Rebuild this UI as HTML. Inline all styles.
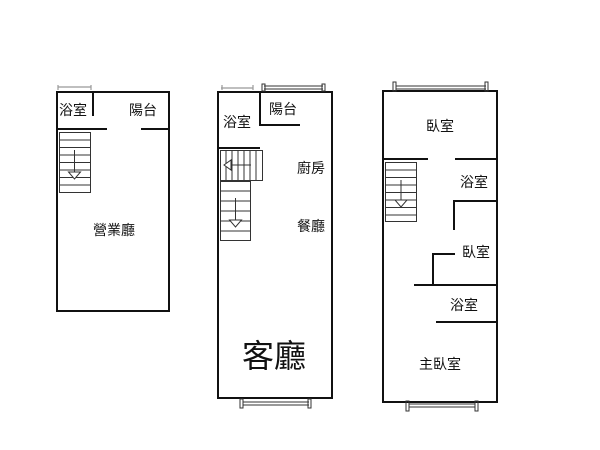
<!DOCTYPE html>
<html><head><meta charset="utf-8"><style>
html,body{margin:0;padding:0;background:#fff;width:600px;height:450px;overflow:hidden}
svg{display:block}
text{font-family:"Liberation Sans","Noto Sans CJK TC",sans-serif;fill:#111}
</style></head><body>
<svg width="600" height="450" viewBox="0 0 600 450" xmlns="http://www.w3.org/2000/svg">
<g stroke="#111" fill="none" stroke-width="2">
<!-- Building 1 -->
<rect x="57" y="92" width="112" height="219"/>
<line x1="93" y1="92" x2="93" y2="116"/>
<line x1="57" y1="129" x2="107" y2="129"/>
<line x1="141" y1="129" x2="169" y2="129"/>
</g>
<g stroke="#999" stroke-width="1.2" fill="none">
<line x1="58" y1="87" x2="91" y2="87"/>
<line x1="58" y1="85" x2="58" y2="90"/><line x1="91" y1="85" x2="91" y2="90"/>
</g>
<g stroke="#333" stroke-width="1" fill="none">
<rect x="59.5" y="132.5" width="31" height="60"/>
<line x1="59.5" y1="140" x2="90.5" y2="140"/>
<line x1="59.5" y1="147.5" x2="90.5" y2="147.5"/>
<line x1="59.5" y1="155" x2="90.5" y2="155"/>
<line x1="59.5" y1="162.5" x2="90.5" y2="162.5"/>
<line x1="59.5" y1="170" x2="90.5" y2="170"/>
<line x1="59.5" y1="177.5" x2="90.5" y2="177.5"/>
<line x1="59.5" y1="185" x2="90.5" y2="185"/>
<line x1="74.5" y1="150" x2="74.5" y2="172"/>
<path d="M68.5 172 L80.5 172 L74.5 179 Z" fill="#fff"/>
</g>

<!-- Building 2 -->
<g stroke="#111" fill="none" stroke-width="2">
<rect x="218" y="92" width="114" height="306"/>
<polyline points="260,92 260,125 300,125"/>
<line x1="218" y1="148" x2="260" y2="148"/>
</g>
<g stroke="#999" stroke-width="1.2" fill="none">
<line x1="221" y1="88" x2="253" y2="88"/>
<line x1="222" y1="85" x2="222" y2="90"/><line x1="253" y1="85" x2="253" y2="90"/>
</g>
<g stroke="#333" stroke-width="1" fill="none">
<line x1="264" y1="86" x2="323" y2="86"/><line x1="264" y1="89" x2="323" y2="89"/>
<rect x="262" y="84" width="3" height="7"/><rect x="322" y="84" width="3" height="7"/>
<line x1="243" y1="402" x2="309" y2="402"/><line x1="243" y1="405" x2="309" y2="405"/>
<rect x="240" y="399" width="3" height="9"/><rect x="308" y="399" width="3" height="9"/>
<rect x="220.5" y="150.5" width="42" height="30"/>
<line x1="226" y1="150.5" x2="226" y2="180.5"/>
<line x1="232" y1="150.5" x2="232" y2="180.5"/>
<line x1="238" y1="150.5" x2="238" y2="180.5"/>
<line x1="244" y1="150.5" x2="244" y2="180.5"/>
<line x1="250" y1="150.5" x2="250" y2="180.5"/>
<line x1="256" y1="150.5" x2="256" y2="180.5"/>
<line x1="231" y1="165" x2="251" y2="165"/>
<path d="M231 160 L231 170 L224 165 Z" fill="#fff"/>
<rect x="220.5" y="181.5" width="30" height="59"/>
<line x1="220.5" y1="191" x2="250.5" y2="191"/>
<line x1="220.5" y1="201" x2="250.5" y2="201"/>
<line x1="220.5" y1="211" x2="250.5" y2="211"/>
<line x1="220.5" y1="221" x2="250.5" y2="221"/>
<line x1="220.5" y1="231" x2="250.5" y2="231"/>
<line x1="235.5" y1="198" x2="235.5" y2="220"/>
<path d="M229.5 220 L241.5 220 L235.5 227 Z" fill="#fff"/>
</g>

<!-- Building 3 -->
<g stroke="#111" fill="none" stroke-width="2">
<rect x="383" y="91" width="114" height="311"/>
<line x1="383" y1="159" x2="428" y2="159"/>
<line x1="455" y1="159" x2="497" y2="159"/>
<polyline points="454,230 454,201 497,201"/>
<polyline points="455,254 433,254 433,285"/>
<line x1="414" y1="285" x2="497" y2="285"/>
<line x1="436" y1="322" x2="497" y2="322"/>
</g>
<g stroke="#333" stroke-width="1" fill="none">
<line x1="396" y1="86" x2="486" y2="86"/><line x1="396" y1="89" x2="486" y2="89"/>
<rect x="393" y="82" width="3" height="9"/><rect x="485" y="82" width="3" height="9"/>
<line x1="409" y1="404" x2="475" y2="404"/><line x1="409" y1="407" x2="475" y2="407"/>
<rect x="406" y="401" width="3" height="10"/><rect x="475" y="401" width="3" height="10"/>
<rect x="385.5" y="162.5" width="31" height="59"/>
<line x1="385.5" y1="170" x2="416.5" y2="170"/>
<line x1="385.5" y1="177.5" x2="416.5" y2="177.5"/>
<line x1="385.5" y1="185" x2="416.5" y2="185"/>
<line x1="385.5" y1="192.5" x2="416.5" y2="192.5"/>
<line x1="385.5" y1="200" x2="416.5" y2="200"/>
<line x1="385.5" y1="207.5" x2="416.5" y2="207.5"/>
<line x1="385.5" y1="215" x2="416.5" y2="215"/>
<line x1="401" y1="180" x2="401" y2="200"/>
<path d="M395 200 L407 200 L401 207 Z" fill="#fff"/>
</g>

<g font-size="14">
<text x="73" y="115" text-anchor="middle">浴室</text>
<text x="143" y="115" text-anchor="middle">陽台</text>
<text x="114" y="235" text-anchor="middle">營業廳</text>
<text x="237" y="127" text-anchor="middle">浴室</text>
<text x="283" y="114" text-anchor="middle">陽台</text>
<text x="311" y="173" text-anchor="middle">廚房</text>
<text x="311" y="231" text-anchor="middle">餐廳</text>
<text x="440" y="131" text-anchor="middle">臥室</text>
<text x="474" y="187" text-anchor="middle">浴室</text>
<text x="476" y="257" text-anchor="middle">臥室</text>
<text x="464" y="310" text-anchor="middle">浴室</text>
<text x="440" y="369" text-anchor="middle">主臥室</text>
</g>
<text x="274" y="367" font-size="32" text-anchor="middle">客廳</text>
</svg>
</body></html>
